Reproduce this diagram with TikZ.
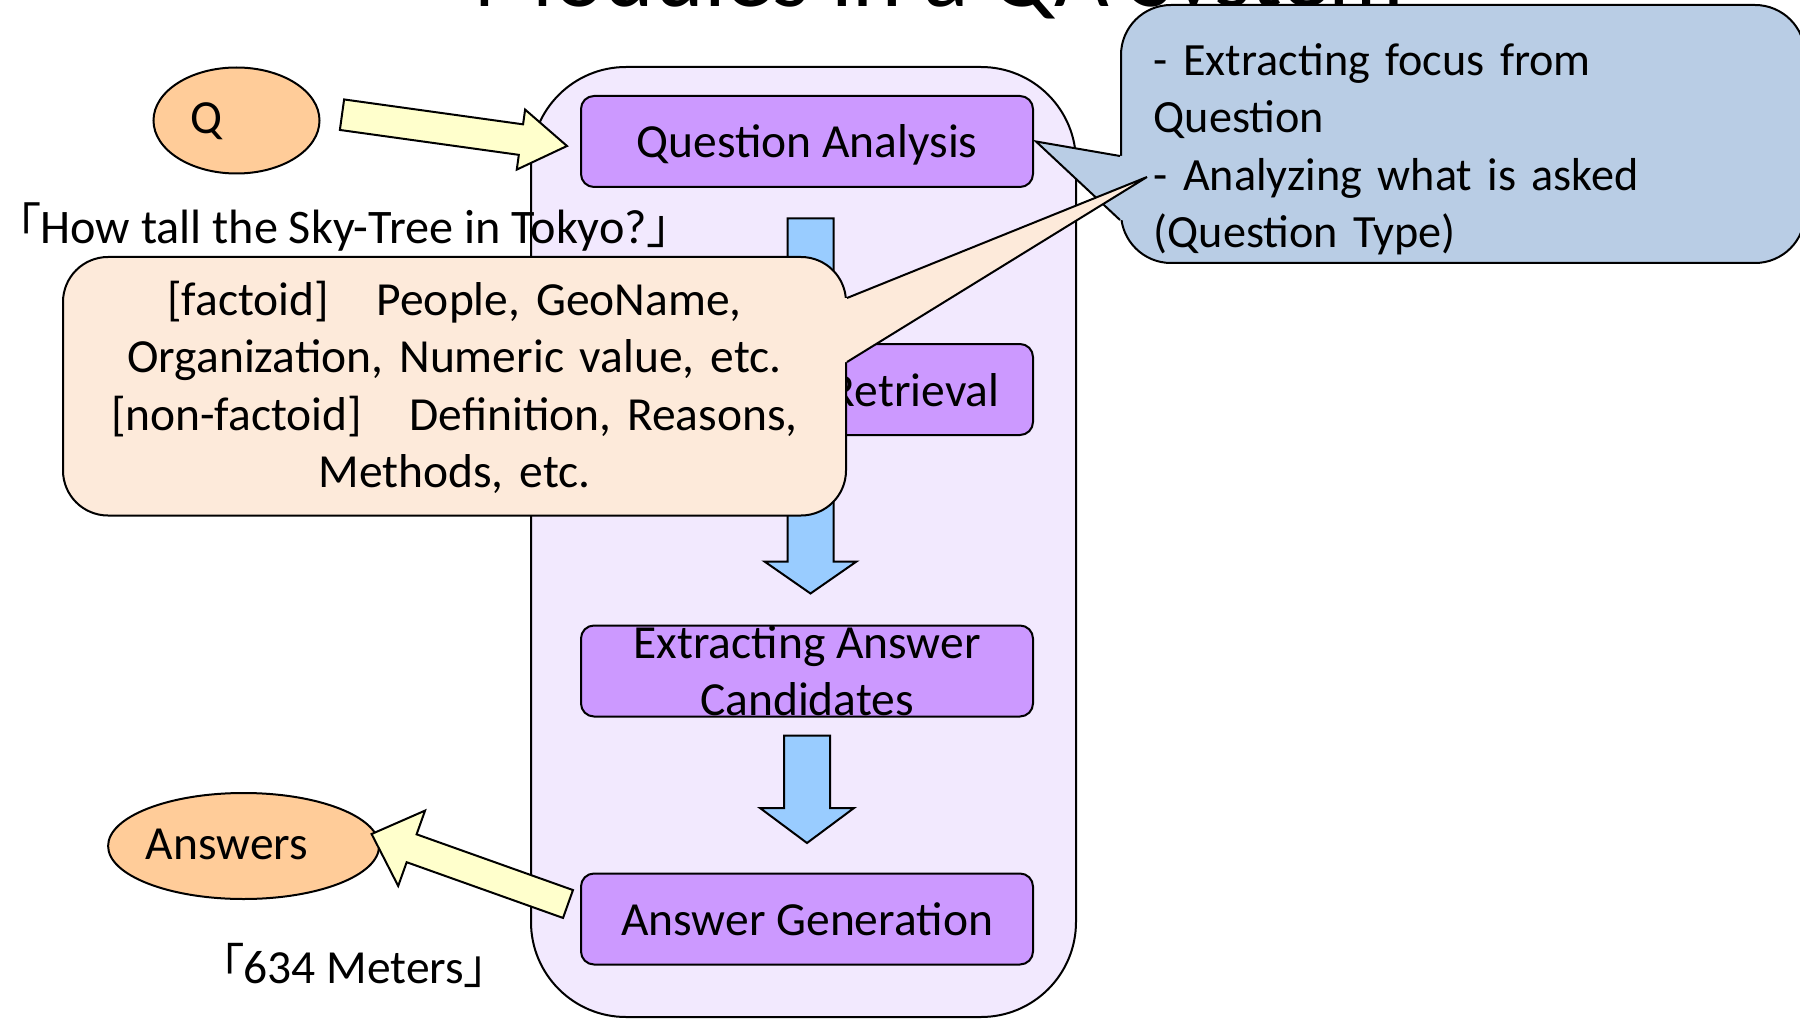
\documentclass[tikz,border=0pt]{standalone}
\usepackage{fontspec}
\setmainfont{Carlito}
\newfontfamily\cjk[RawFeature=+palt]{Noto Sans CJK JP}
\usetikzlibrary{positioning,calc,shapes.geometric}
\tikzset{font=\fontsize{47.5}{57.4}\selectfont}

\definecolor{sysfill}{RGB}{242,233,254}
\definecolor{modfill}{RGB}{204,153,255}
\definecolor{flowfill}{RGB}{153,204,255}
\definecolor{feedfill}{RGB}{255,255,204}
\definecolor{iofill}{RGB}{255,204,153}
\definecolor{notefill}{RGB}{185,205,229}
\definecolor{typefill}{RGB}{253,234,218}

% block arrow: style, tail, tip, half shaft, half head, head length
\newcommand{\blockarrow}[6]{%
  \coordinate (headBase) at ($(#3)!#6!(#2)$);
  \draw[#1] ($(#2)!#4!90:(#3)$) -- ($(headBase)!#4!-90:(#2)$)
    -- ($(headBase)!#5!-90:(#2)$) -- (#3) -- ($(headBase)!#5!90:(#2)$)
    -- ($(headBase)!#4!90:(#2)$) -- ($(#2)!#4!-90:(#3)$) -- cycle;
}

\begin{document}
\begin{tikzpicture}[x=1pt,y=-1pt,line width=2pt,
    system/.style={draw,fill=sysfill,rounded corners=95pt,minimum width=545pt,minimum height=950pt},
    module/.style={draw,fill=modfill,rounded corners=13pt,minimum width=452pt,minimum height=91pt,text height=45pt,text depth=12pt},
    io/.style={draw,fill=iofill,ellipse,minimum height=106pt},
    iolabel/.style={text height=38pt,text depth=12pt},
    note/.style={draw,rounded corners=50pt},
    flow/.style={draw,fill=flowfill},
    feed/.style={draw,fill=feedfill}]

      \useasboundingbox (0,0) rectangle (1800,1019);

      \node[anchor=base,font=\fontsize{94.6}{113}\selectfont] (title) at (939,7) {Modules in a QA System};

      \node[system] (sys) at (803.5,542) {};

      \node[module] (qa) at (807,141.5) {Question Analysis};
      \node[module] (eac) at (807,671) {};
      \node[align=center] (eacText) at (eac) {Extracting Answer\\Candidates};
      \node[module] (ag) at (807,919) {Answer Generation};

      \coordinate (qaFlowTail) at ($(qa.south)+(3.5,30.5)$);
      \coordinate (qaFlowTip) at ($(eac.north)+(3.5,-31)$);
      \blockarrow{flow}{qaFlowTail}{qaFlowTip}{23pt}{46pt}{32pt}
      \coordinate (eacFlowTail) at ($(eac.south)+(0,18)$);
      \coordinate (eacFlowTip) at ($(ag.north)+(0,-29.5)$);
      \blockarrow{flow}{eacFlowTail}{eacFlowTip}{23pt}{47pt}{35pt}

      \node[module] (dr) at (807,389.5) {};
      \node[anchor=east,inner xsep=0pt,text height=45pt,text depth=12pt] (drText) at ($(dr.center)+(193.5,0)$) {Retrieval};

      \node[io,minimum width=166pt] (q) at (236.5,120.5) {};
      \node[iolabel] (qText) at ($(q)+(-30,0)$) {Q};
      \node[io,minimum width=271pt] (ans) at (243.6,846) {};
      \node[iolabel] (ansLabel) at ($(ans)+(-16.6,0)$) {Answers};

      \coordinate (qFeedTail) at ($(q.east)+(21.5,-5.8)$);
      \coordinate (qFeedTip) at ($(qa.west)+(-13,4.5)$);
      \blockarrow{feed}{qFeedTail}{qFeedTip}{15.4pt}{30.3pt}{46.5pt}
      \coordinate (agFeedTail) at ($(ag.west)+(-12,-15)$);
      \coordinate (agFeedTip) at ($(ans.east)+(-8.5,-12)$);
      \blockarrow{feed}{agFeedTail}{agFeedTip}{14.8pt}{40pt}{42.5pt}

      \node[anchor=base west,font=\fontsize{48.2}{58}\selectfont] (askText) at (12,243.5) {{\cjk 「}How tall the Sky-Tree in Tokyo?{\cjk 」}};
      \node[anchor=base west] (ansText) at (215.7,983) {{\cjk 「}634 Meters{\cjk 」}};

      % note on question analysis
      \node[note,fill=notefill,minimum width=684pt,minimum height=258pt] (qaNote) at (1463,134) {};
      \coordinate (qaNoteTip) at ($(qa.east)+(2,0)$);
      \fill[notefill] ($(qaNote.west)+(3,22)$) -- ($(qaNote.west)+(0,22)$) -- (qaNoteTip)
        -- ($(qaNote.west)+(0,86)$) -- ($(qaNote.west)+(3,86)$) -- cycle;
      \draw ($(qaNote.west)+(0,22)$) -- (qaNoteTip) -- ($(qaNote.west)+(0,86)$);
      \node[anchor=base west,text width=620pt,align=left,inner sep=0pt,font=\fontsize{46.2}{57.4}\selectfont] (qaNoteText) at ($(qaNote.west)+(32.7,-58.5)$)
        {- Extracting focus from\\Question\\- Analyzing what is asked\\(Question Type)};

      % note on question types
      \node[note,fill=typefill,rounded corners=45pt,minimum width=783pt,minimum height=258.5pt] (typeNote) at (454.5,386.25) {};
      \coordinate (typeNoteTip) at ($(qaNote.west)+(27,43)$);
      \fill[typefill] ($(typeNote.east)+(-3,-88.25)$) -- ($(typeNote.east)+(0,-88.25)$) -- (typeNoteTip)
        -- ($(typeNote.east)+(0,-24.25)$) -- ($(typeNote.east)+(-3,-24.25)$) -- cycle;
      \draw ($(typeNote.east)+(0,-88.25)$) -- (typeNoteTip) -- ($(typeNote.east)+(0,-24.25)$);
      \node[anchor=base,text width=760pt,align=center,inner sep=0pt] (typeNoteText) at ($(typeNote.center)+(0,-71)$)
        {[factoid]\ \ \ People, GeoName,\\Organization, Numeric value, etc.\\{}[non-factoid]\ \ \ Definition, Reasons,\\Methods, etc.};
\end{tikzpicture}
\end{document}
